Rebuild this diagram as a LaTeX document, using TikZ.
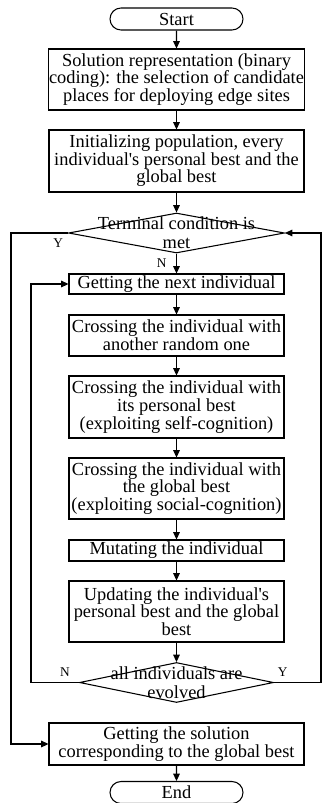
\documentclass[tikz,border=0pt]{standalone}
\usepackage{fontspec}
\setmainfont{Liberation Serif}
\usetikzlibrary{arrows.meta,shapes.geometric,shapes.misc}
\tikzset{
  box/.style={draw,line width=0.8pt,align=center,inner xsep=0.5pt,inner ysep=0pt,minimum width=191.25pt},
  proc/.style={box,minimum width=161.25pt},
  tnode/.style={draw,line width=0.8pt,rounded rectangle,minimum width=99.75pt,minimum height=16.5pt,inner sep=0pt},
  cond/.style={draw,line width=0.8pt,diamond,minimum height=30pt,inner sep=0pt},
  ar/.style={-{Triangle[length=5.5pt,width=5pt]},line width=0.8pt},
  yn/.style={font=\fontsize{10}{12}\selectfont,inner sep=0pt},
}

\begin{document}
\begin{tikzpicture}[x=0.75pt,y=-0.75pt,font=\fontsize{13.8}{13.2}\selectfont]
  \useasboundingbox (0,0) rectangle (323,803);
  \node[tnode] (start) at (176.5,19) {Start};
  \node[box,minimum height=45.75pt] (repr) at (176.5,79.5) {Solution representation (binary\\coding): the selection of candidate\\places for deploying edge sites};
  \node[box,minimum height=46.5pt] (init) at (176.5,161) {Initializing population, every\\individual\textquotesingle s personal best and the\\global best};
  \node[cond,minimum width=162pt,label={[align=center,font=\fontsize{13.8}{14.5}\selectfont]center:Terminal condition is\\met}] (term) at (176.5,233) {};
  \node[proc,minimum height=15pt] (next) at (176.5,284) {Getting the next individual};
  \node[proc,minimum height=30.75pt] (rand) at (176.5,335.5) {Crossing the individual with\\another random one};
  \node[proc,minimum height=46.5pt] (pbest) at (176.5,407) {Crossing the individual with\\its personal best\\(exploiting self-cognition)};
  \node[proc,minimum height=45.75pt] (gbest) at (176.5,488.5) {Crossing the individual with\\the global best\\(exploiting social-cognition)};
  \node[proc,minimum height=15.75pt] (mut) at (176.5,550.5) {Mutating the individual};
  \node[proc,minimum height=45.75pt] (upd) at (176.5,611.5) {Updating the individual\textquotesingle s\\personal best and the global\\best};
  \node[cond,minimum width=145.5pt,label={[align=center,font=\fontsize{13.8}{14}\selectfont]center:all individuals are\\evolved}] (evol) at (176.5,682.5) {};
  \node[box,minimum height=31.5pt] (sol) at (176.5,744) {Getting the solution\\corresponding to the global best};
  \node[tnode] (end) at (176.5,792.5) {End};

  % loop lines
  \coordinate (lout) at (11,0);
  \coordinate (lin) at (31,0);
  \coordinate (rout) at (321,0);

  \foreach \a/\b in {start/repr,repr/init,init/term,term/next,next/rand,rand/pbest,pbest/gbest,gbest/mut,mut/upd,upd/evol,sol/end}
    \draw[ar] (\a) -- (\b);
  \draw[ar] (term.west) -- (term.west -| lout) |- (sol.west);
  \draw[ar] (evol.west) -- (evol.west -| lin) |- (next.west);
  \draw[ar] (evol.east) -- (evol.east -| rout) |- (term.east);

  \node[yn] (termY) at (58.3,243.3) {Y};
  \node[yn] (termN) at (161.7,263.3) {N};
  \node[yn] (evolN) at (65,671.7) {N};
  \node[yn] (evolY) at (282.7,671.7) {Y};
\end{tikzpicture}
\end{document}
